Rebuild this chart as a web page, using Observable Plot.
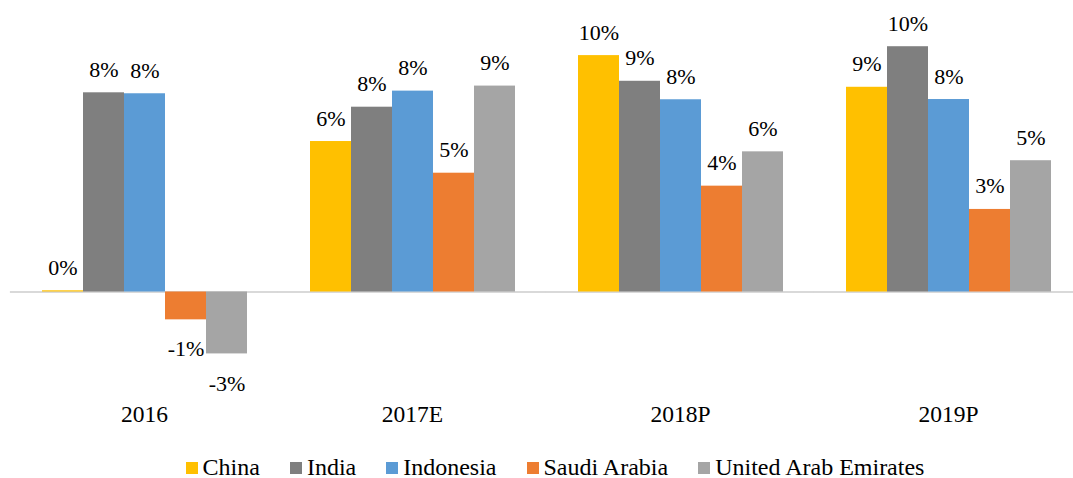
<!DOCTYPE html>
<html>
<head>
<meta charset="utf-8">
<script src="https://cdn.jsdelivr.net/npm/d3@7"></script>
<script src="https://cdn.jsdelivr.net/npm/@observablehq/plot@0.6"></script>
<style>
  html, body { margin: 0; padding: 0; background: #fff; }
  #chart { width: 1073px; height: 452px; }
  .legend { display: flex; justify-content: center; align-items: center; height: 27px; margin-top: 2px;
    font-family: "Liberation Serif", "Times New Roman", serif; font-size: 24px; color: #000;
    padding-left: 37px; box-sizing: border-box; width: 1073px; }
  .legend .item { display: flex; align-items: center; margin-right: 30px; }
  .legend .item:last-child { margin-right: 0; }
  .legend .sw { width: 12px; height: 12px; margin-right: 5px; }
</style>
</head>
<body>
<div id="chart"></div>
<script>
const years = ["2016", "2017E", "2018P", "2019P"];
const countries = ["China", "India", "Indonesia", "Saudi Arabia", "United Arab Emirates"];
const china = [0.05, 6.27, 9.85, 8.53];
const india = [8.30, 7.70, 8.78, 10.22];
const indonesia = [8.26, 8.37, 8.01, 8.02];
const saudiArabia = [-1.16, 4.95, 4.41, 3.44];
const uae = [-2.58, 8.58, 5.84, 5.47];
const colors = ["#FFC000", "#7F7F7F", "#5B9BD5", "#ED7D31", "#A5A5A5"];

const seriesValues = [china, india, indonesia, saudiArabia, uae];
const data = [];
years.forEach((yr, i) => {
  countries.forEach((c, j) => {
    data.push({year: yr, country: c, value: seriesValues[j][i]});
  });
});
const fmt = v => Math.round(v) + "%";
const serif = "Liberation Serif";

const plot = Plot.plot({
  width: 1073,
  height: 452,
  marginLeft: 9,
  marginRight: -11,
  marginTop: 27.5,
  marginBottom: 64.5,
  style: {fontFamily: serif, fontSize: "22px", color: "#000", background: "#fff"},
  fx: {domain: years, paddingInner: 0.231, paddingOuter: 0.1155, axis: null},
  x: {domain: countries, padding: 0, axis: null},
  y: {domain: [-4, 11], axis: null},
  color: {domain: countries, range: colors},
  marks: [
    Plot.ruleY([0], {stroke: "#D9D9D9", strokeWidth: 2, insetLeft: -31.1, insetRight: -31.1}),
    Plot.barY(data, {fx: "year", x: "country", y: "value", fill: "country"}),
    Plot.text(data.filter(d => d.value >= 0), {fx: "year", x: "country", y: "value", text: d => fmt(d.value),
      lineAnchor: "bottom", dy: -16, fontSize: 22, fontFamily: serif, fill: "#000"}),
    Plot.text(data.filter(d => d.value < 0), {fx: "year", x: "country", y: "value", text: d => fmt(d.value),
      lineAnchor: "top", dy: 21, fontSize: 22, fontFamily: serif, fill: "#000"}),
    Plot.axisFx({anchor: "bottom", tickSize: 0, tickPadding: 17, fontSize: 23.5, fontFamily: serif, label: null})
  ]
});
document.getElementById("chart").appendChild(plot);

const legend = document.createElement("div");
legend.className = "legend";
countries.forEach((c, i) => {
  const item = document.createElement("div");
  item.className = "item";
  const sw = document.createElement("div");
  sw.className = "sw";
  sw.style.background = colors[i];
  const t = document.createElement("span");
  t.textContent = c;
  item.appendChild(sw);
  item.appendChild(t);
  legend.appendChild(item);
});
document.body.appendChild(legend);
</script>
</body>
</html>
